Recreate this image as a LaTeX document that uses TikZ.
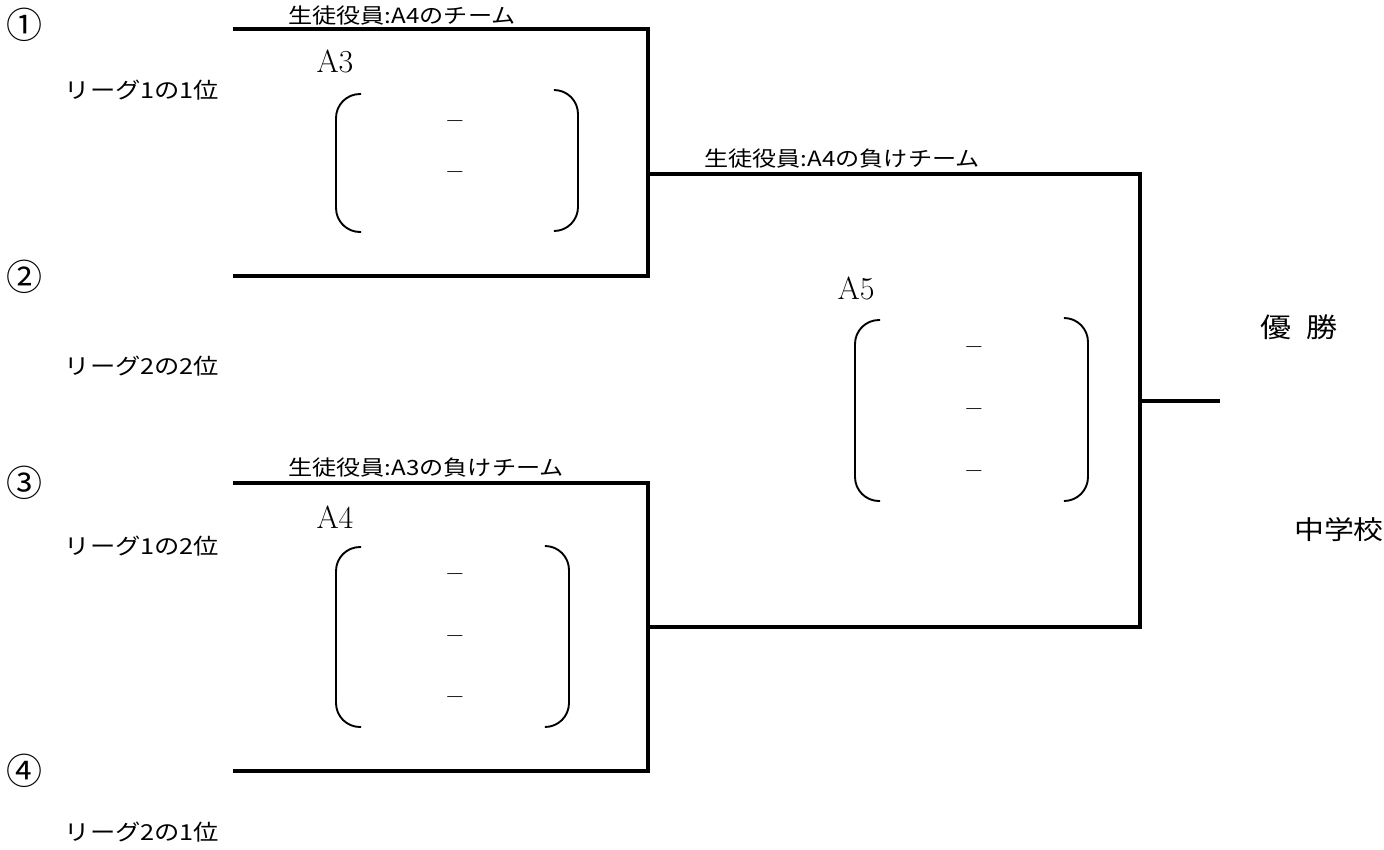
\documentclass[tikz,border=0pt]{standalone}
\usepackage{fontspec}
\newfontfamily\jp[FakeStretch=1.15]{Noto Sans CJK JP}
\newfontfamily\jpn{Noto Sans CJK JP}
\begin{document}
\begin{tikzpicture}[x=1pt,y=-1pt,
  bline/.style={line width=3.4pt},
  brk/.style={line width=1.9pt, rounded corners=24pt},
  jl/.style={font=\jp\fontsize{22}{26}\selectfont, inner sep=0pt},
  hd/.style={font=\jp\fontsize{21}{24}\selectfont, inner sep=0pt},
  cn/.style={font=\jpn\fontsize{36}{40}\selectfont, inner sep=0pt},
  mt/.style={font=\fontsize{32}{36}\selectfont, inner sep=0pt},
  dsh/.style={font=\bfseries\fontsize{27}{30}\selectfont, inner sep=0pt}]
\useasboundingbox (0,0) rectangle (1384,849);
% line coordinates
\coordinate (p1) at (233,29);
\coordinate (p2) at (233,276);
\coordinate (p3) at (233,483);
\coordinate (p4) at (233,771);
\coordinate (m1) at (648,174);
\coordinate (m2) at (648,627);
\coordinate (f) at (1140,401);
\coordinate (w) at (1220,401);
\draw[bline] (p1) -| (m1) |- (p2);
\draw[bline] (p3) -| (m2) |- (p4);
\draw[bline] (m1) -| (f) |- (m2);
\draw[bline] (f) -- (w);
% brackets
\draw[brk] (361,94) -- (336,94) -- (336,232) -- (361,232);
\draw[brk] (556,90) -- (578,90) -- (578,231) -- (556,231);
\draw[brk] (361,547) -- (336,547) -- (336,727) -- (361,727);
\draw[brk] (547,546) -- (569,546) -- (569,727) -- (547,727);
\draw[brk] (880,320) -- (855,320) -- (855,501) -- (880,501);
\draw[brk] (1066,318) -- (1088,318) -- (1088,501) -- (1066,501);
% dashes
\node[dsh] (d31) at (455,125) {–};
\node[dsh] (d32) at (455,176) {–};
\node[dsh] (d41) at (455,578) {–};
\node[dsh] (d42) at (455,640) {–};
\node[dsh] (d43) at (455,701) {–};
\node[dsh] (d51) at (974,351) {–};
\node[dsh] (d52) at (974,413) {–};
\node[dsh] (d53) at (974,475) {–};
% circled numbers
\node[cn] (c1) at (24,25) {①};
\node[cn] (c2) at (24,277) {②};
\node[cn] (c3) at (24,483) {③};
\node[cn] (c4) at (24,771) {④};
% league labels
\node[jl] (l1) at (142,90) {リーグ1の1位};
\node[jl] (l2) at (142,366) {リーグ2の2位};
\node[jl] (l3) at (142,546) {リーグ1の2位};
\node[jl] (l4) at (142,832) {リーグ2の1位};
% headers
\node[hd] (h1) at (402,16) {生徒役員:A4のチーム};
\node[hd] (h2) at (842,159) {生徒役員:A4の負けチーム};
\node[hd] (h3) at (426,468) {生徒役員:A3の負けチーム};
% match labels
\node[mt] (a3) at (335,61) {A3};
\node[mt] (a4) at (335,517) {A4};
\node[mt] (a5) at (856,288) {A5};
% right labels
\node[jl, font=\jp\fontsize{27}{30}\selectfont] (win) at (1299,327) {優\hspace{0.55em}勝};
\node[jl, font=\jp\fontsize{26}{30}\selectfont] (sch) at (1339,530) {中学校};
\end{tikzpicture}
\end{document}
